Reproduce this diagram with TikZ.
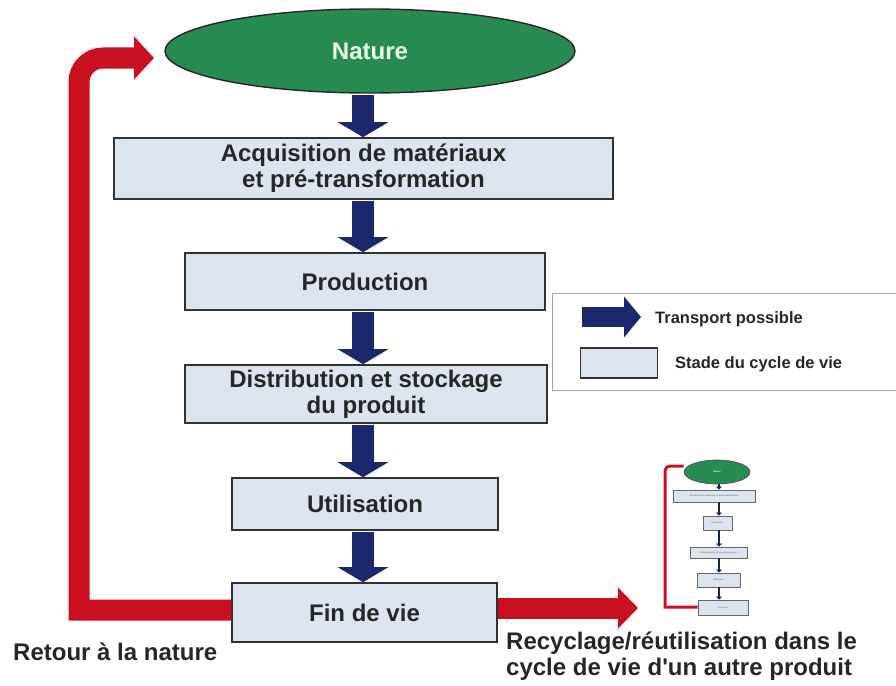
\documentclass[tikz,border=0pt]{standalone}
\usepackage{fontspec}
\setmainfont{Liberation Sans}
\usetikzlibrary{arrows.meta,shapes.geometric}
\definecolor{natgreen}{RGB}{40,140,82}
\definecolor{navy}{RGB}{28,40,108}
\definecolor{redarr}{RGB}{200,16,32}
\definecolor{stagefill}{RGB}{220,228,240}
\definecolor{edgegray}{RGB}{50,50,50}
\tikzset{
  stage/.style={draw=edgegray, line width=1.6pt, fill=stagefill, align=center,
    font=\fontsize{24}{26}\selectfont\bfseries, text=black!85, inner sep=0pt},
  flow/.style={navy, line width=22pt,
    -{Triangle[width=50pt,length=15pt]}, shorten <=0.8pt},
  redflow/.style={redarr, line width=21pt},
  minibox/.style={draw=gray!80!black, line width=0.8pt, fill=stagefill, inner sep=0pt,
    font=\fontsize{2.2}{2.4}\selectfont\bfseries, text=gray, align=center},
  miniflow/.style={navy!80!black, line width=2.5pt, -{Triangle[width=6pt,length=3pt]}},
  lbl/.style={font=\fontsize{24}{26}\selectfont\bfseries, text=black!85, inner sep=0pt},
}
\begin{document}
\begin{tikzpicture}[x=1pt,y=-1pt]
\useasboundingbox (0,0) rectangle (896,685);
% main nodes
\node[ellipse, draw=black!85, line width=1.4pt, fill=natgreen, minimum width=410pt, minimum height=84pt,
  font=\fontsize{24}{26}\selectfont\bfseries, text=white!92!green] (nat) at (370,51) {Nature};
\node[stage, minimum width=499pt, minimum height=61pt] (acq) at (363.5,168.5)
  {Acquisition de matériaux\\et pré-transformation};
\node[stage, minimum width=360pt, minimum height=57pt] (prod) at (365,281.5) {Production};
\node[stage, minimum width=362pt, minimum height=58pt] (dist) at (366,394)
  {Distribution et stockage\\du produit};
\node[stage, minimum width=266pt, minimum height=52pt] (util) at (365,504) {Utilisation};
\node[stage, minimum width=265pt, minimum height=59pt] (fin) at (364.5,612.5) {Fin de vie};
% transport arrows
\draw[flow] (nat.south -| 363,0) -- (acq.north -| 363,0);
\draw[flow] (acq.south -| 363,0) -- (prod.north -| 363,0);
\draw[flow] (prod.south -| 363,0) -- (dist.north -| 363,0);
\draw[flow] (dist.south -| 363,0) -- (util.north -| 363,0);
\draw[flow] (util.south -| 363,0) -- (fin.north -| 363,0);
% red arrows
\coordinate (retc1) at (79,610);
\coordinate (retc2) at (79,58);
\coordinate (rettip) at (154,58);
\draw[redflow, line join=miter, -{Triangle[width=42pt,length=20pt]}]
  (fin.west |- retc1) -- (retc1) [rounded corners=24pt] -- (retc2) -- (rettip);
\coordinate (rectip) at (638,608);
\draw[redflow, -{Triangle[width=40pt,length=20pt]}] (fin.east |- rectip) -- (rectip);
% bottom labels
\node[lbl, anchor=base west] (ret) at (13,660) {Retour à la nature};
\node[lbl, anchor=base west, align=left] (rec) at (506,675)
  {Recyclage/réutilisation dans le\\cycle de vie d\textquotesingle un autre produit};
% legend
\node[draw=gray!70, line width=1.2pt, fill=white, minimum width=346pt, minimum height=97pt,
  anchor=north west, inner sep=0pt] (leg) at (552,293) {};
\coordinate (lega) at (582,317);
\coordinate (legb) at (641,317);
\draw[navy, line width=20pt, -{Triangle[width=40pt,length=17pt]}] (lega) -- (legb);
\node[draw=edgegray, line width=1.4pt, fill=stagefill, minimum width=77pt, minimum height=30pt,
  inner sep=0pt] (legbox) at (619,363) {};
\node[font=\fontsize{16.5}{18}\selectfont\bfseries, text=black!85, anchor=base west, inner sep=0pt]
  (legt1) at (655,323) {Transport possible};
\node[font=\fontsize{16.5}{18}\selectfont\bfseries, text=black!85, anchor=base west, inner sep=0pt]
  (legt2) at (675,368) {Stade du cycle de vie};
% mini diagram
\node[ellipse, draw=black!70, line width=0.6pt, fill=natgreen, minimum width=66pt, minimum height=24pt,
  inner sep=0pt, font=\fontsize{2.2}{2.4}\selectfont\bfseries, text=white] (mnat) at (717,472) {Nature};
\node[minibox, minimum width=82pt, minimum height=12pt] (macq) at (714,496)
  {Acquisition de matériaux et pré-transformation};
\node[minibox, minimum width=29pt, minimum height=14pt] (mprod) at (717.5,523) {Production};
\node[minibox, minimum width=57pt, minimum height=11pt] (mdist) at (718.5,552.5)
  {Distribution et stockage du produit};
\node[minibox, minimum width=43pt, minimum height=14pt] (mutil) at (718.5,580) {Utilisation};
\node[minibox, minimum width=50pt, minimum height=15pt] (mfin) at (723,607.5) {Fin de vie};
\draw[miniflow] (mnat.south -| 719,0) -- (macq.north -| 719,0);
\draw[miniflow] (macq.south -| 719,0) -- (mprod.north -| 719,0);
\draw[miniflow] (mprod.south -| 719,0) -- (mdist.north -| 719,0);
\draw[miniflow] (mdist.south -| 719,0) -- (mutil.north -| 719,0);
\draw[miniflow] (mutil.south -| 719,0) -- (mfin.north -| 719,0);
\coordinate (mc1) at (665,607);
\coordinate (mc2) at (665,466);
\draw[redarr, line width=3pt, line join=miter] (mfin.west |- mc1) -- (mc1) [rounded corners=5pt] -- (mc2) -- (mnat.west |- mc2);
\end{tikzpicture}
\end{document}
